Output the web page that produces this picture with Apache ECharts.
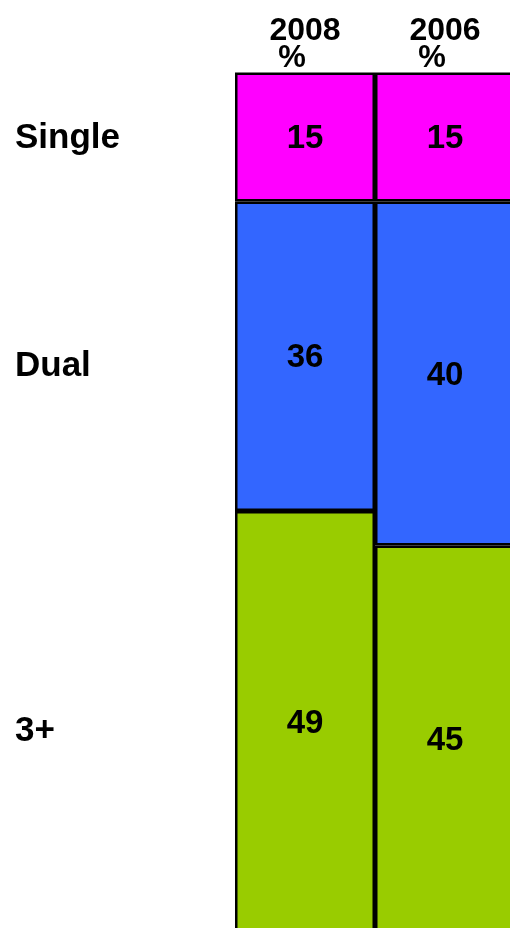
<!DOCTYPE html>
<html>
<head>
<meta charset="utf-8">
<script src="https://cdn.jsdelivr.net/npm/echarts@6/dist/echarts.min.js"></script>
<style>
  html, body { margin: 0; padding: 0; background: #ffffff; }
  #chart { width: 510px; height: 928px; }
</style>
</head>
<body>
<div id="chart"></div>
<script>
// Household share by number of earners, two survey years (%)
const years = ['2008', '2006'];
const groups = ['Single', 'Dual', '3+'];
const single = [15, 15];
const dual = [36, 40];
const threePlus = [49, 45];
const colors = ['#FF00FF', '#3366FF', '#99CC00'];

const FONT = '"Liberation Sans", Arial, sans-serif';
const seriesValues = [single, dual, threePlus];

const chart = echarts.init(document.getElementById('chart'), null, { renderer: 'canvas' });

const option = {
  animation: false,
  backgroundColor: '#ffffff',
  grid: {
    left: 235, top: 72.5, width: 280, height: 860,
    containLabel: false,
    outerBoundsMode: 'none'
  },
  xAxis: {
    type: 'category',
    position: 'top',
    data: years,
    axisLine: { show: false },
    axisTick: { show: false },
    axisLabel: {
      margin: 1,
      formatter: v => '{y|' + v + '}\n{p|%}',
      rich: {
        y: { fontFamily: FONT, fontWeight: 'bold', fontSize: 32, color: '#000', lineHeight: 27 },
        p: { fontFamily: FONT, fontWeight: 'bold', fontSize: 31, color: '#000', lineHeight: 27, padding: [0, 26, 0, 0] }
      }
    }
  },
  yAxis: {
    type: 'value',
    inverse: true,
    min: 0,
    max: 100,
    show: false,
    splitLine: { show: false }
  },
  series: groups.map((g, i) => ({
    name: g,
    type: 'bar',
    stack: 'share',
    barWidth: '100%',
    data: seriesValues[i],
    itemStyle: { color: colors[i], borderColor: '#000', borderWidth: 2.5 },
    label: {
      show: true,
      position: 'inside',
      offset: [0, 2],
      fontFamily: FONT,
      fontWeight: 'bold',
      fontSize: 33,
      color: '#000'
    }
  }))
};

chart.setOption(option);

// Row captions on the left, centred on the mean midpoint of each group across years
const captions = [];
let cum = years.map(() => 0);
groups.forEach((g, i) => {
  const mids = years.map((y, j) => cum[j] + seriesValues[i][j] / 2);
  const mean = mids.reduce((a, b) => a + b, 0) / mids.length;
  cum = cum.map((c, j) => c + seriesValues[i][j]);
  const py = chart.convertToPixel({ gridIndex: 0 }, [0, mean])[1];
  captions.push({
    type: 'text',
    x: 15,
    y: py + 1,
    style: {
      text: g,
      fontFamily: FONT,
      fontWeight: 'bold',
      fontSize: 35,
      fill: '#000',
      verticalAlign: 'middle'
    }
  });
});
chart.setOption({ graphic: captions });
</script>
</body>
</html>
